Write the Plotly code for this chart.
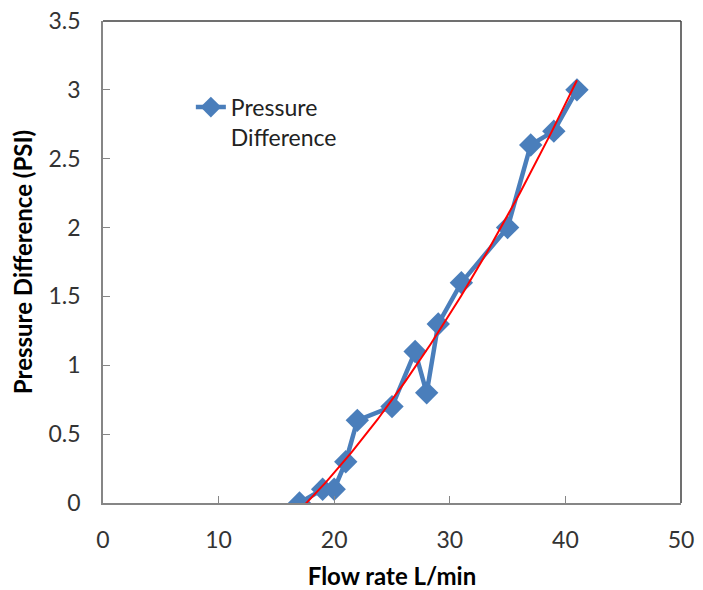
import numpy as np
import plotly.graph_objects as go

# Measured flow rate (L/min) and pressure difference (PSI)
flow_rate = [17, 19, 20, 21, 22, 25, 27, 28, 29, 31, 35, 37, 39, 41]
pressure_diff = [0.0, 0.1, 0.1, 0.3, 0.6, 0.7, 1.1, 0.8, 1.3, 1.6, 2.0, 2.6, 2.7, 3.0]

x_ticks = [0, 10, 20, 30, 40, 50]
y_ticks = [0, 0.5, 1, 1.5, 2, 2.5, 3, 3.5]

BLUE = "#4A7EBB"
FONT = "Lato"

# Second-order polynomial trend through the measurements
coef = np.polyfit(flow_rate, pressure_diff, 2)
trend_x = np.linspace(min(flow_rate), max(flow_rate), 200)
trend_y = np.polyval(coef, trend_x)

fig = go.Figure()
fig.add_trace(go.Scatter(
    x=flow_rate, y=pressure_diff, mode="lines+markers",
    name="Pressure<br>Difference",
    line=dict(color=BLUE, width=4.5),
    marker=dict(symbol="diamond", size=18, color=BLUE),
))
fig.add_trace(go.Scatter(
    x=trend_x, y=trend_y, mode="lines",
    line=dict(color="#FF0000", width=2),
    showlegend=False, hoverinfo="skip",
))

axis_common = dict(
    showgrid=False, zeroline=False, showline=True, automargin=False,
    linecolor="#868686", linewidth=1.5,
    ticks="inside", ticklen=7, tickwidth=1.2, tickcolor="#868686",
    tickfont=dict(family=FONT, size=23, color="#333333"),
)

fig.update_layout(
    width=703, height=590,
    margin=dict(l=103, r=22, t=21, b=87),
    paper_bgcolor="white", plot_bgcolor="white",
    font=dict(family=FONT, color="#000000"),
    xaxis=dict(
        range=[0, 50], tickvals=x_ticks, ticklabelstandoff=16,
        title=dict(text="<b>Flow rate L/min</b>", font=dict(family=FONT, size=24), standoff=26),
        **axis_common,
    ),
    yaxis=dict(
        range=[0, 3.5], tickvals=y_ticks, ticktext=[f"{v:g}" for v in y_ticks],
        ticklabelstandoff=16,
        title=dict(text="<b>Pressure Difference (PSI)</b>", font=dict(family=FONT, size=24), standoff=9),
        **axis_common,
    ),
    legend=dict(
        x=0.152, y=0.866, xanchor="left", yanchor="top",
        valign="top", bgcolor="rgba(0,0,0,0)",
        font=dict(family=FONT, size=23, color="#222222"),
    ),
    shapes=[
        dict(type="line", xref="paper", yref="paper", x0=0, x1=1, y0=1, y1=1,
             line=dict(color="#404040", width=1.5)),
        dict(type="line", xref="paper", yref="paper", x0=1, x1=1, y0=0, y1=1,
             line=dict(color="#404040", width=1.5)),
    ],
)

fig.write_html("out.html")
